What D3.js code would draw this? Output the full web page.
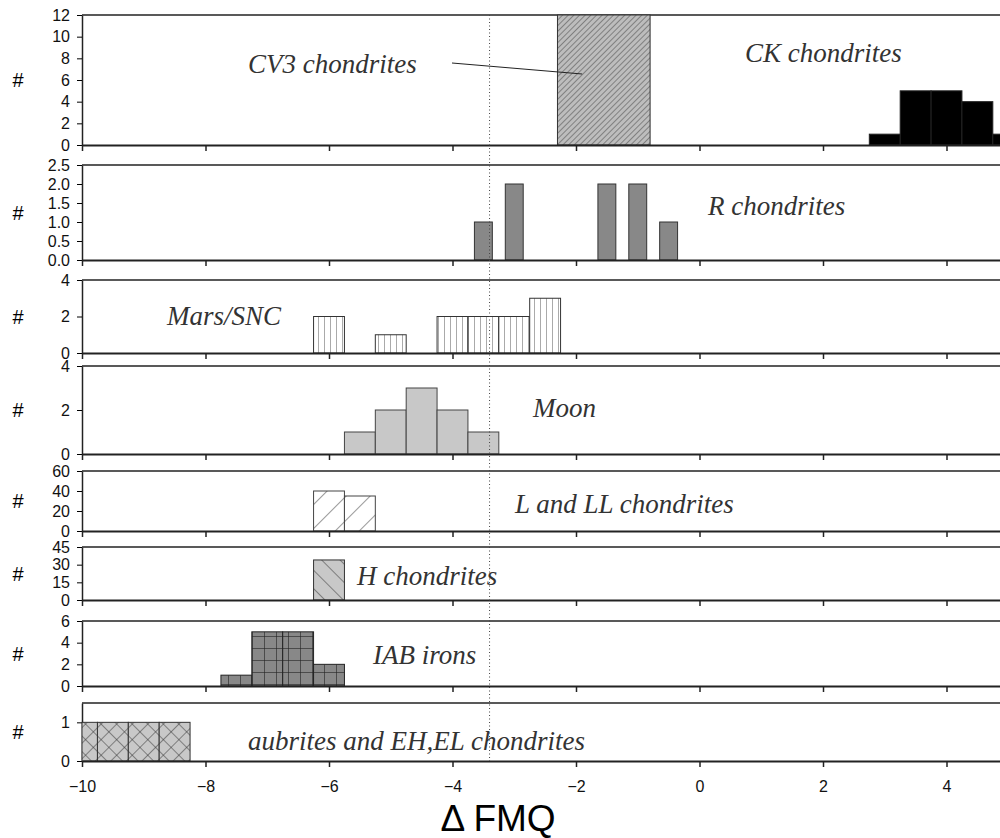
<!DOCTYPE html>
<html>
<head>
<meta charset="utf-8">
<script src="https://cdn.jsdelivr.net/npm/d3@7"></script>
<style>
  body { margin: 0; background: #fff; }
  svg { display: block; }
</style>
</head>
<body>
<svg width="1000" height="838"></svg>
<script>
// histogram bins (bin centres, in ΔFMQ) and counts
const ckBins = [3, 3.5, 4, 4.5, 5];
const ckCounts = [1, 5, 5, 4, 1];
const cv3Range = [-2.3, -0.8];
const cv3Count = 12;
const rBins = [-3.5, -3, -1.5, -1, -0.5];
const rCounts = [1, 2, 2, 2, 1];
const marsBins = [-6, -5, -4, -3.5, -3, -2.5];
const marsCounts = [2, 1, 2, 2, 2, 3];
const moonBins = [-5.5, -5, -4.5, -4, -3.5];
const moonCounts = [1, 2, 3, 2, 1];
const llBins = [-6, -5.5];
const llCounts = [40, 35];
const hBins = [-6];
const hCounts = [34];
const iabBins = [-7.5, -7, -6.5, -6];
const iabCounts = [1, 5, 5, 2];
const aubBins = [-10, -9.5, -9, -8.5];
const aubCounts = [1, 1, 1, 1];

// axis ticks
const xTicks = [-10, -8, -6, -4, -2, 0, 2, 4];
const ckTicks = [0, 2, 4, 6, 8, 10, 12];
const rTicks = [0, 0.5, 1, 1.5, 2, 2.5];
const marsTicks = [0, 2, 4];
const moonTicks = [0, 2, 4];
const llTicks = [0, 20, 40, 60];
const hTicks = [0, 15, 30, 45];
const iabTicks = [0, 2, 4, 6];
const aubTicks = [0, 1];
const fmqMarker = -3.4;

const labelTexts = ["CV3 chondrites", "CK chondrites", "R chondrites", "Mars/SNC", "Moon",
    "L and LL chondrites", "H chondrites", "IAB irons", "aubrites and EH,EL chondrites"];

const sans = "'Liberation Sans', Arial, sans-serif";
const serif = "'Liberation Serif', 'Times New Roman', 'DejaVu Serif', serif";

const svg = d3.select("svg");
const binW = 0.5;

const x = d3.scaleLinear().domain([-10, 5]).range([82, 82 + 15 * 61.75]);

// patterns
const defs = svg.append("defs");
function hatch(id, size, angle, bg, stroke, sw, both) {
    const p = defs.append("pattern")
        .attr("id", id)
        .attr("patternUnits", "userSpaceOnUse")
        .attr("width", size).attr("height", size)
        .attr("patternTransform", `rotate(${angle})`);
    p.append("rect").attr("width", size).attr("height", size).attr("fill", bg);
    p.append("line").attr("x1", 0).attr("y1", 0).attr("x2", 0).attr("y2", size)
        .attr("stroke", stroke).attr("stroke-width", sw);
    if (both) {
        p.append("line").attr("x1", 0).attr("y1", 0).attr("x2", size).attr("y2", 0)
            .attr("stroke", stroke).attr("stroke-width", sw);
    }
}
hatch("pCV3", 4, 45, "#bdbdbd", "#444", 1);
hatch("pMars", 6, 0, "#fff", "#555", 1);
hatch("pLL", 17, 45, "#fff", "#333", 1);
hatch("pH", 13, -45, "#c8c8c8", "#333", 1);
hatch("pIAB", 12, 0, "#888", "#222", 1.2, true);
hatch("pAub", 11, 45, "#c8c8c8", "#333", 1, true);

const layout = [
    { top: 15, bottom: 145, max: 12, ticks: ckTicks, fmt: d3.format("d") },
    { top: 165, bottom: 260, max: 2.5, ticks: rTicks, fmt: d3.format(".1f") },
    { top: 280, bottom: 353, max: 4, ticks: marsTicks, fmt: d3.format("d") },
    { top: 366, bottom: 454, max: 4, ticks: moonTicks, fmt: d3.format("d") },
    { top: 471, bottom: 531, max: 60, ticks: llTicks, fmt: d3.format("d") },
    { top: 547, bottom: 600, max: 45, ticks: hTicks, fmt: d3.format("d") },
    { top: 621, bottom: 686, max: 6, ticks: iabTicks, fmt: d3.format("d") },
    { top: 703, bottom: 761, max: 1.5, ticks: aubTicks, fmt: d3.format("d") }
];

const ys = layout.map(p => d3.scaleLinear().domain([0, p.max]).range([p.bottom, p.top]));

function drawBins(i, centers, counts, fill, stroke, width) {
    const y = ys[i];
    const w = width || binW;
    svg.append("g").selectAll("rect")
        .data(centers.map((c, j) => ({ c, n: counts[j] })))
        .join("rect")
        .attr("x", d => x(Math.max(d.c - w / 2, -10)))
        .attr("width", d => x(d.c + w / 2) - x(Math.max(d.c - w / 2, -10)))
        .attr("y", d => y(d.n))
        .attr("height", d => y(0) - y(d.n))
        .attr("fill", fill)
        .attr("stroke", stroke)
        .attr("stroke-width", 1);
}

// panels: axes and frame
layout.forEach((p, i) => {
    const y = ys[i];
    const g = svg.append("g");

    g.append("line")
        .attr("x1", x(-10)).attr("x2", x(5))
        .attr("y1", p.top).attr("y2", p.top)
        .attr("stroke", "#222").attr("stroke-width", 1.5);

    const ya = g.append("g")
        .attr("transform", `translate(${x(-10)},0)`)
        .call(d3.axisLeft(y).tickValues(p.ticks).tickFormat(p.fmt).tickSize(5).tickSizeOuter(0).tickPadding(7));
    ya.select(".domain").attr("stroke", "#222").attr("stroke-width", 1.5);
    ya.selectAll("text").style("font-family", sans).attr("font-size", 16).attr("fill", "#111");

    g.append("text")
        .attr("x", 18).attr("y", (p.top + p.bottom) / 2 + 7)
        .attr("text-anchor", "middle")
        .style("font-family", sans)
        .attr("font-size", 20)
        .text("#");
});

// bars
svg.append("rect")
    .attr("x", x(cv3Range[0]))
    .attr("width", x(cv3Range[1]) - x(cv3Range[0]))
    .attr("y", ys[0](cv3Count))
    .attr("height", ys[0](0) - ys[0](cv3Count))
    .attr("fill", "url(#pCV3)").attr("stroke", "#333");
drawBins(0, ckBins, ckCounts, "#000", "#222");
drawBins(1, rBins, rCounts, "#888", "#333", 0.29);
drawBins(2, marsBins, marsCounts, "url(#pMars)", "#333");
drawBins(3, moonBins, moonCounts, "#c8c8c8", "#444");
drawBins(4, llBins, llCounts, "url(#pLL)", "#444");
drawBins(5, hBins, hCounts, "url(#pH)", "#333");
drawBins(6, iabBins, iabCounts, "url(#pIAB)", "#222");
drawBins(7, aubBins, aubCounts, "url(#pAub)", "#333");

// x axes at the bottom of every panel
layout.forEach((p, i) => {
    const xa = svg.append("g")
        .attr("transform", `translate(0,${p.bottom})`)
        .call(d3.axisBottom(x).tickValues(xTicks).tickSize(6).tickSizeOuter(0).tickPadding(14));
    xa.select(".domain").attr("stroke", "#222").attr("stroke-width", 2);
    xa.selectAll(".tick line").attr("stroke", "#222").attr("stroke-width", 1.5);
    if (i < layout.length - 1) xa.selectAll("text").remove();
    else xa.selectAll("text").style("font-family", sans).attr("font-size", 16).attr("fill", "#111");
});

// dotted reference line
svg.append("line")
    .attr("x1", x(fmqMarker)).attr("x2", x(fmqMarker))
    .attr("y1", layout[0].top).attr("y2", layout[7].bottom)
    .attr("stroke", "#444").attr("stroke-width", 1)
    .attr("stroke-dasharray", "1,2.5");

// panel labels
const labelPos = [[248, 73], [745, 62], [708, 215], [167, 325], [533, 417],
    [515, 513], [357, 585], [373, 664], [248, 750]];
svg.append("g").selectAll("text")
    .data(labelTexts)
    .join("text")
    .attr("x", (d, i) => labelPos[i][0])
    .attr("y", (d, i) => labelPos[i][1])
    .style("font-family", serif)
    .style("font-style", "italic")
    .attr("fill", "#333")
    .attr("font-size", 27)
    .text(d => d);

// CV3 pointer
svg.append("line")
    .attr("x1", 452).attr("y1", 63)
    .attr("x2", x(-1.9)).attr("y2", 74)
    .attr("stroke", "#222").attr("stroke-width", 1);

// axis title
svg.append("text")
    .attr("x", 498).attr("y", 831)
    .attr("text-anchor", "middle")
    .style("font-family", sans)
    .attr("font-size", 37)
    .text("Δ FMQ");
</script>
</body>
</html>
